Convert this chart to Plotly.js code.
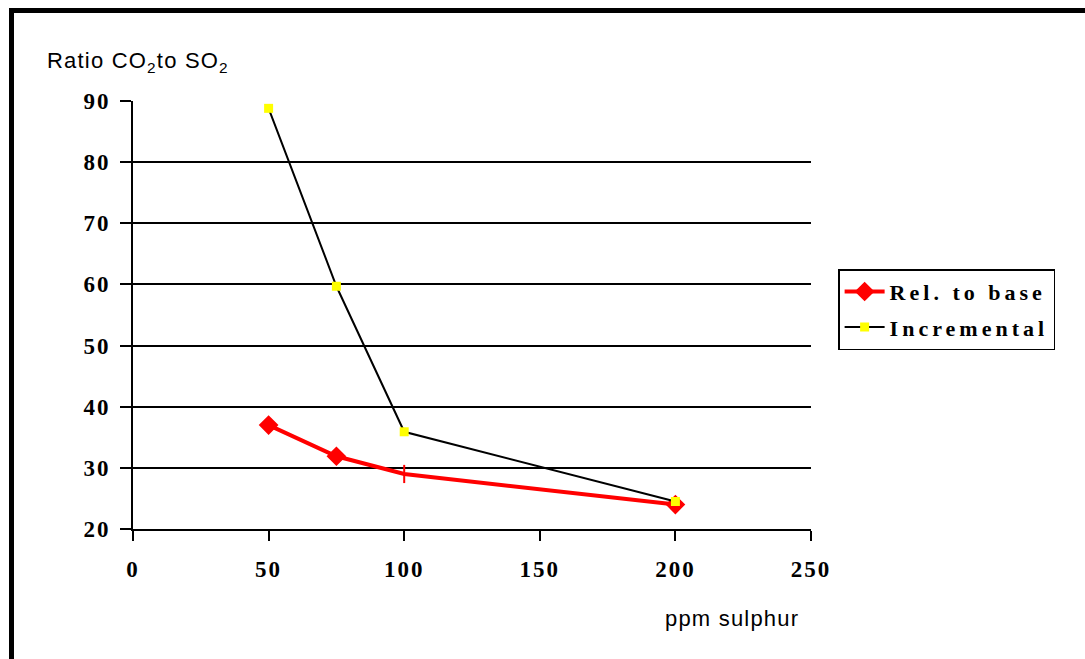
<!DOCTYPE html>
<html>
<head>
<meta charset="utf-8">
<script src="https://cdn.plot.ly/plotly-3.0.1.min.js"></script>
<style>
  html, body { margin: 0; padding: 0; background: #fff; }
  #wrap { position: relative; width: 1085px; height: 659px; overflow: hidden; }
  #chart { width: 1085px; height: 659px; }
  #frame { position: absolute; left: 9px; top: 8px; width: 1090px; height: 700px;
           border-left: 5px solid #000; border-top: 5px solid #000; pointer-events: none; }
  .legendtext { letter-spacing: 4px; }
  .xtick text, .ytick text { letter-spacing: 2px; }
  .annotation-text { letter-spacing: 1.2px; }
</style>
</head>
<body>
<div id="wrap">
  <div id="chart"></div>
  <div id="frame"></div>
</div>
<script>
const ppmSulphur = [50, 75, 100, 200];
const relToBase = [37, 31.9, 29, 24];
const incremental = [88.8, 59.7, 35.9, 24.5];
const relSymbols = ['diamond', 'diamond', 'line-ns', 'diamond'];
const xTicks = [0, 50, 100, 150, 200, 250];
const yTicks = [20, 30, 40, 50, 60, 70, 80, 90];

const tickFont = { family: 'Liberation Serif, Times New Roman, serif', size: 23, color: '#000', weight: 'bold' };

const traces = [
  {
    x: ppmSulphur, y: relToBase, name: 'Rel. to base', type: 'scatter', mode: 'lines+markers',
    legendgroup: 'a',
    line: { color: '#ff0000', width: 4 },
    marker: { symbol: relSymbols, size: 13, color: '#ff0000', line: { color: '#ff0000', width: 2 } }
  },
  {
    x: ppmSulphur, y: incremental, name: 'Incremental', type: 'scatter', mode: 'lines+markers',
    legendgroup: 'b',
    line: { color: '#000000', width: 2 },
    marker: { symbol: 'square', size: 9, color: '#ffff00', line: { width: 0 } }
  }
];

const layout = {
  width: 1085, height: 659,
  margin: { l: 133, r: 274, t: 101, b: 130 },
  paper_bgcolor: '#fff', plot_bgcolor: '#fff',
  showlegend: true,
  legend: {
    x: 1.04, xref: 'paper', xanchor: 'left', y: 0.607, yanchor: 'top',
    bgcolor: '#fff', bordercolor: '#000', borderwidth: 1.5,
    font: { family: 'Liberation Serif, Times New Roman, serif', size: 22, color: '#000', weight: 'bold' },
    tracegroupgap: 4, itemwidth: 40
  },
  xaxis: {
    range: [0, 250], tickvals: xTicks, ticktext: xTicks.map(String),
    showgrid: false, zeroline: false, showline: true, linecolor: '#000', linewidth: 2,
    ticks: 'outside', ticklen: 10, tickwidth: 2, tickcolor: '#000',
    tickfont: tickFont, ticklabelstandoff: 8, fixedrange: true
  },
  yaxis: {
    range: [20, 90], tickvals: yTicks, ticktext: yTicks.map(String),
    showgrid: true, gridcolor: '#000', gridwidth: 2, zeroline: false,
    showline: true, linecolor: '#000', linewidth: 2,
    ticks: 'outside', ticklen: 11, tickwidth: 2, tickcolor: '#000',
    tickfont: tickFont, ticklabelstandoff: 5, fixedrange: true
  },
  annotations: [
    {
      xref: 'paper', yref: 'paper', x: -0.13, y: 1.09, xanchor: 'left', yanchor: 'middle',
      text: 'Ratio CO<sub>2</sub>to SO<sub>2</sub>', showarrow: false,
      font: { family: 'Liberation Sans, Arial, sans-serif', size: 22, color: '#000' }
    },
    {
      xref: 'paper', yref: 'paper', x: 0.782, y: -0.21, xanchor: 'left', yanchor: 'middle',
      text: 'ppm sulphur', showarrow: false,
      font: { family: 'Liberation Sans, Arial, sans-serif', size: 22, color: '#000' }
    }
  ]
};

Plotly.newPlot('chart', traces, layout, { displayModeBar: false, staticPlot: true });
</script>
</body>
</html>
